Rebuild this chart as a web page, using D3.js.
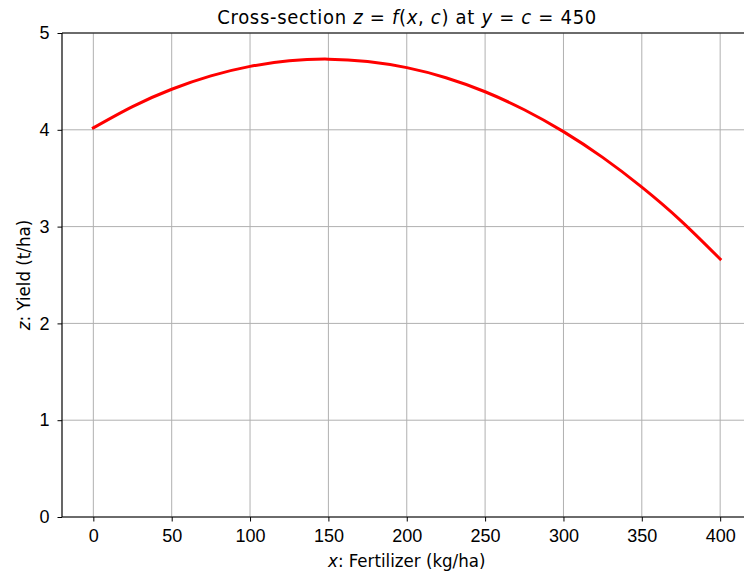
<!DOCTYPE html>
<html>
<head>
<meta charset="utf-8">
<script src="https://cdn.jsdelivr.net/npm/d3@7/dist/d3.min.js"></script>
<style>
  html, body { margin: 0; padding: 0; background: #fff; overflow: hidden; }
  svg { display: block; font-family: "DejaVu Sans Condensed", "DejaVu Sans", sans-serif; font-stretch: condensed; }
</style>
</head>
<body>
<div id="chart"></div>
<script>
const fertilizer = [0, 25, 50, 75, 100, 125, 150, 175, 200, 225, 250, 275, 300, 325, 350, 375, 400];
const yieldVals = [4.020, 4.240, 4.419, 4.557, 4.655, 4.713, 4.730, 4.706, 4.642, 4.538, 4.393, 4.207, 3.981, 3.715, 3.408, 3.060, 2.665];
const xTicks = [0, 50, 100, 150, 200, 250, 300, 350, 400];
const yTicks = [0, 1, 2, 3, 4, 5];

const width = 744, height = 571;
const margin = { left: 62, top: 33, bottom: 54 };
const plotRight = 751.5; // axes runs a bit past the picture edge

const svg = d3.select('#chart')
  .append('svg')
  .attr('width', width)
  .attr('height', height);

const x = d3.scaleLinear().domain([-20, 420]).range([margin.left, plotRight]);
const y = d3.scaleLinear().domain([0, 5]).range([height - margin.bottom, margin.top]);

// Grid
const gridG = svg.append('g');
gridG.selectAll('line.vx')
  .data(xTicks)
  .join('line')
  .attr('x1', d => x(d)).attr('x2', d => x(d))
  .attr('y1', y(0)).attr('y2', y(5))
  .attr('stroke', '#b0b0b0').attr('stroke-width', 1);
gridG.selectAll('line.hy')
  .data(yTicks)
  .join('line')
  .attr('x1', x(-20)).attr('x2', x(420))
  .attr('y1', d => y(d)).attr('y2', d => y(d))
  .attr('stroke', '#b0b0b0').attr('stroke-width', 1);

// Curve
const line = d3.line()
  .x(d => x(d[0]))
  .y(d => y(d[1]))
  .curve(d3.curveNatural);

svg.append('path')
  .datum(fertilizer.map((f, i) => [f, yieldVals[i]]))
  .attr('d', line)
  .attr('fill', 'none')
  .attr('stroke', '#ff0000')
  .attr('stroke-width', 3)
  .attr('stroke-linecap', 'square');

// Axes
const xAxis = svg.append('g')
  .attr('transform', `translate(0,${y(0)})`)
  .call(d3.axisBottom(x).tickValues(xTicks).tickSize(4.5).tickPadding(7.5).tickFormat(d3.format('d')));
const yAxis = svg.append('g')
  .attr('transform', `translate(${x(-20)},0)`)
  .call(d3.axisLeft(y).tickValues(yTicks).tickSize(4.5).tickPadding(8).tickFormat(d3.format('d')));

for (const ax of [xAxis, yAxis]) {
  ax.select('.domain').remove();
  ax.selectAll('text')
    .attr('fill', '#000')
    .style('font-size', '18px')
    .style('font-family', null);
  ax.selectAll('line').attr('stroke', '#000').attr('stroke-width', 1);
}

// Spines: left, bottom, top (right one is beyond the picture)
svg.append('line')
  .attr('x1', x(-20)).attr('x2', x(-20)).attr('y1', y(0)).attr('y2', y(5))
  .attr('stroke', '#000').attr('stroke-width', 1.2);
svg.append('line')
  .attr('x1', x(-20)).attr('x2', x(420)).attr('y1', y(0)).attr('y2', y(0))
  .attr('stroke', '#000').attr('stroke-width', 1.2);
svg.append('line')
  .attr('x1', x(-20)).attr('x2', x(420)).attr('y1', y(5)).attr('y2', y(5))
  .attr('stroke', '#000').attr('stroke-width', 1.2);

// mixed roman / italic text helper
function richText(sel, parts) {
  for (const p of parts) {
    sel.append('tspan')
      .style('font-style', p[1] ? 'italic' : 'normal')
      .text(p[0]);
  }
}

const cx = (x(-20) + x(420)) / 2;

const title = svg.append('text')
  .attr('x', cx).attr('y', 24)
  .attr('text-anchor', 'middle')
  .attr('textLength', 379)
  .attr('lengthAdjust', 'spacing')
  .style('font-size', '20px')
  .attr('fill', '#000');
richText(title, [
  ['Cross-section ', false], ['z', true], [' = ', false], ['f', true], ['(', false],
  ['x', true], [', ', false], ['c', true], [') at ', false], ['y', true], [' = ', false],
  ['c', true], [' = 450', false]
]);

const xLabel = svg.append('text')
  .attr('x', cx).attr('y', 567)
  .attr('text-anchor', 'middle')
  .style('font-size', '18.5px')
  .attr('fill', '#000');
richText(xLabel, [['x', true], [': Fertilizer (kg/ha)', false]]);

const yLabel = svg.append('text')
  .attr('transform', `translate(30,${(y(0) + y(5)) / 2}) rotate(-90)`)
  .attr('text-anchor', 'middle')
  .style('font-size', '18.5px')
  .attr('fill', '#000');
richText(yLabel, [['z', true], [': Yield (t/ha)', false]]);
</script>
</body>
</html>
